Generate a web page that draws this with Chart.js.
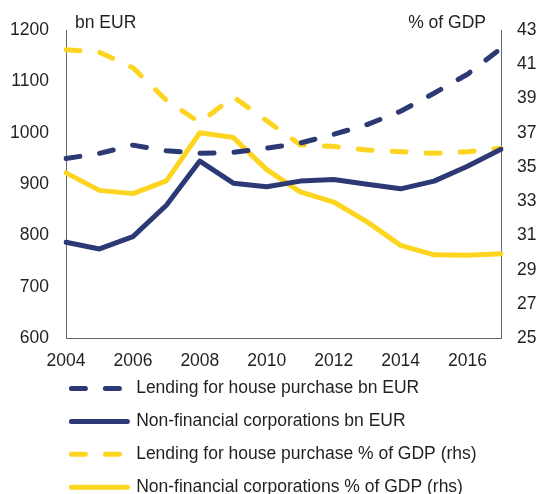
<!DOCTYPE html>
<html>
<head>
<meta charset="utf-8">
<script src="https://cdn.jsdelivr.net/npm/chart.js@4.4.0/dist/chart.umd.min.js"></script>
<style>
  html, body { margin: 0; padding: 0; overflow: hidden; background: #fff; }
  #wrap { width: 539px; height: 525px; }
</style>
</head>
<body>
<div id="wrap"><canvas id="lendingChart"></canvas></div>
<script>
// anos (eixo x)
const years = ['2004', '2005', '2006', '2007', '2008', '2009', '2010', '2011', '2012', '2013', '2014', '2015', '2016', '2017'];

// bn EUR (eixo esquerdo)
const houseLendingBn = [950, 960, 976, 965, 960, 962, 970, 980, 997, 1016, 1042, 1077, 1114, 1164];
const nfcLendingBn = [787, 774, 798, 859, 945, 902, 895, 906, 909, 900, 891, 906, 935, 968];

// % do PIB (eixo direito)
const houseLendingGdp = [41.85, 41.7, 40.8, 38.9, 37.6, 39.1, 37.7, 36.3, 36.2, 36.0, 35.9, 35.8, 35.9, 36.1];
const nfcLendingGdp = [34.66, 33.64, 33.45, 34.19, 37.0, 36.72, 34.85, 33.55, 32.96, 31.8, 30.43, 29.88, 29.86, 29.94];

const seriesLabels = [
    'Lending for house purchase bn EUR',
    'Non-financial corporations bn EUR',
    'Lending for house purchase % of GDP (rhs)',
    'Non-financial corporations % of GDP (rhs)'
];

const navy = '#2c3975';
const yellow = '#fdd520';
const textColor = '#231f20';
const axisColor = '#666666';
const fontFamily = "'Liberation Sans', Arial, sans-serif";

Chart.defaults.font.family = fontFamily;
Chart.defaults.font.size = 17.5;
Chart.defaults.color = textColor;

// titulos das unidades acima dos eixos
const unitLabels = {
    id: 'unitLabels',
    afterDraw(chart) {
        const ctx = chart.ctx;
        const area = chart.chartArea;
        ctx.save();
        ctx.font = '17.5px ' + fontFamily;
        ctx.fillStyle = textColor;
        ctx.textBaseline = 'alphabetic';
        ctx.textAlign = 'left';
        ctx.fillText('bn EUR', area.left + 9, area.top - 2);
        ctx.textAlign = 'right';
        ctx.fillText('% of GDP', area.right - 15, area.top - 2);
        ctx.restore();
    }
};

// legenda alinhada com a area do grafico
const legendShift = {
    id: 'legendShift',
    afterLayout(chart) {
        chart.legend.left = chart.chartArea.left - 10;
        chart.legend.top = chart.chartArea.bottom + 26;
    }
};

const dashed = [14, 20];

new Chart(document.getElementById('lendingChart'), {
    type: 'line',
    data: {
        labels: years,
        datasets: [
            { label: seriesLabels[0], data: houseLendingBn, yAxisID: 'y', borderColor: navy, backgroundColor: navy, borderDash: dashed },
            { label: seriesLabels[1], data: nfcLendingBn, yAxisID: 'y', borderColor: navy, backgroundColor: navy },
            { label: seriesLabels[2], data: houseLendingGdp, yAxisID: 'y1', borderColor: yellow, backgroundColor: yellow, borderDash: dashed },
            { label: seriesLabels[3], data: nfcLendingGdp, yAxisID: 'y1', borderColor: yellow, backgroundColor: yellow }
        ]
    },
    options: {
        responsive: true,
        maintainAspectRatio: false,
        animation: false,
        layout: { padding: { top: 30, left: 10, right: 2, bottom: 0 } },
        elements: {
            line: { borderWidth: 5, borderCapStyle: 'round', borderJoinStyle: 'round', tension: 0, fill: false },
            point: { radius: 0, hoverRadius: 0 }
        },
        scales: {
            x: {
                offset: false,
                grid: { display: false, drawTicks: false },
                border: { display: true, color: axisColor, width: 1 },
                ticks: {
                    autoSkip: false,
                    maxRotation: 0,
                    padding: 12,
                    callback: function(value, index) {
                        return index % 2 === 0 ? this.getLabelForValue(value) : '';
                    }
                }
            },
            y: {
                position: 'left',
                min: 600,
                max: 1200,
                grid: { display: false, drawTicks: false },
                border: { display: true, color: axisColor, width: 1 },
                ticks: { stepSize: 100, padding: 17, callback: (v) => String(v) },
                afterFit: function(scale) { scale.width = 56; }
            },
            y1: {
                position: 'right',
                min: 25,
                max: 43,
                grid: { display: false, drawTicks: false },
                border: { display: true, color: axisColor, width: 1 },
                ticks: { stepSize: 2, padding: 16, callback: (v) => String(v) },
                afterFit: function(scale) { scale.width = 36; }
            }
        },
        plugins: {
            tooltip: { enabled: false },
            legend: {
                position: 'bottom',
                align: 'start',
                labels: {
                    usePointStyle: true,
                    pointStyleWidth: 56,
                    padding: 15.4,
                    color: textColor,
                    font: { size: 17.5 },
                    generateLabels: function(chart) {
                        return chart.data.datasets.map(function(ds, i) {
                            return {
                                text: ds.label,
                                datasetIndex: i,
                                hidden: !chart.isDatasetVisible(i),
                                pointStyle: 'line',
                                strokeStyle: ds.borderColor,
                                fillStyle: ds.borderColor,
                                lineWidth: 5,
                                lineCap: 'round',
                                lineDash: ds.borderDash || [],
                                fontColor: textColor
                            };
                        });
                    }
                }
            }
        }
    },
    plugins: [unitLabels, legendShift]
});
</script>
</body>
</html>
